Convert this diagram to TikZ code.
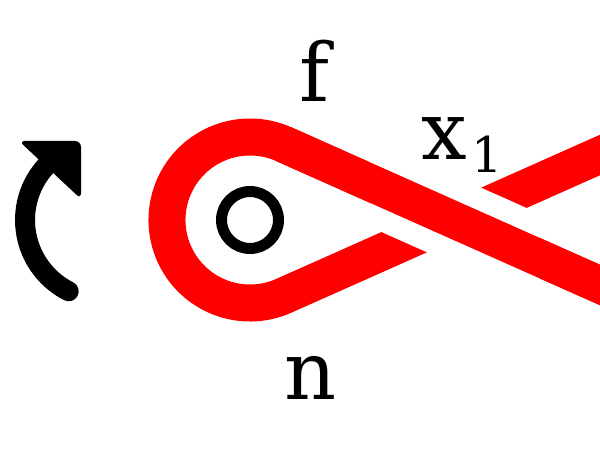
\documentclass[tikz,border=0pt]{standalone}
\usepackage{fontspec}
\setmainfont{DejaVu Serif}
\usetikzlibrary{calc}
\definecolor{knot}{RGB}{255,0,0}
\tikzset{
  strand/.style={draw=knot,line width=0.74cm},
  gap/.style={draw=white,line width=1.62cm},
  turn/.style={draw=black,line width=0.4cm,line cap=round},
  lbl/.style={font=\fontsize{46}{50}\selectfont,inner sep=0pt},
}

\begin{document}
\begin{tikzpicture}
  \clip (0,0) rectangle (12,9);
  % rotation arrow
  \draw[turn] (1.374,3.174) arc[start angle=243,end angle=135,radius=1.6cm];
  \fill[rounded corners=0.12cm] (0.38,6.18) -- (1.62,6.18) -- (1.62,5.02) -- cycle;
  % kink
  \coordinate (c) at (5,4.6);
  \coordinate (top) at (5.675,6.1165);
  \coordinate (bot) at (5.675,3.0835);
  \coordinate (ne) at (12.6,6.167);
  \coordinate (se) at (12.6,3.033);
  \draw[strand] (ne) -- (bot) arc[start angle=-66,end angle=-294,radius=1.66cm] -- (se);
  % over crossing
  \begin{scope}
    \clip (7.4,3.2) rectangle (10.8,6.0);
    \draw[gap] (top) -- (se);
  \end{scope}
  \draw[strand] (top) -- (se);
  \draw[line width=0.22cm] (c) circle (0.57cm);
  % labels
  \node[lbl,anchor=base] (f) at (6.28,6.96) {f};
  \node[lbl,anchor=base] (n) at (6.22,1.0) {n};
  \node[lbl,anchor=base west] (x) at (8.42,5.8) {x\kern0.06em\raisebox{-0.15em}{\fontsize{28}{30}\selectfont 1}};
\end{tikzpicture}
\end{document}
